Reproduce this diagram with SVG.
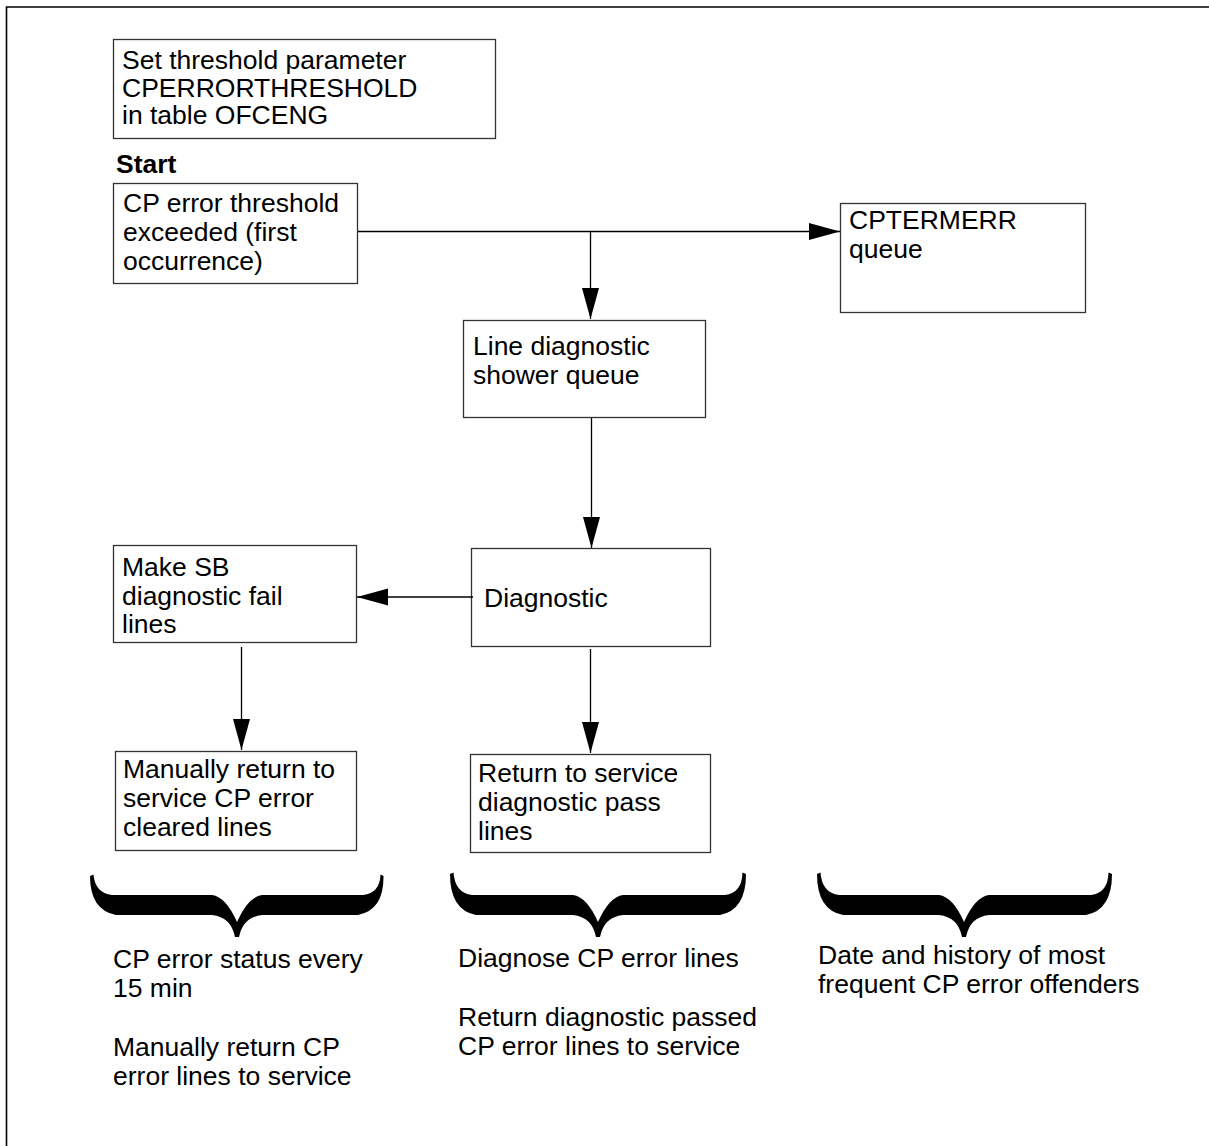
<svg xmlns="http://www.w3.org/2000/svg" width="1209" height="1146" viewBox="0 0 1209 1146">
<style>
.box{fill:#fff;stroke:#333;stroke-width:1.3}
.t{font-family:"Liberation Sans",Arial,sans-serif;font-size:26.5px;fill:#000}
.b{font-weight:bold}
.c{stroke:#000;stroke-width:1.3;fill:none}
.br{fill:#000;stroke:none}
</style>
<defs>
<marker id="ah" markerUnits="userSpaceOnUse" markerWidth="32" markerHeight="18" refX="31" refY="8.5" orient="auto">
<path d="M0,0 L31,8.5 L0,17 Z" fill="#000"/>
</marker>
</defs>
<rect width="1209" height="1146" fill="#fff"/>
<path d="M6.5,1146 V7 H1209" fill="none" stroke="#000" stroke-width="1.6"/>

<g id="n-set">
<rect class="box" x="113.5" y="39.5" width="382" height="99"/>
<text class="t" x="122" y="69">Set threshold parameter</text>
<text class="t" x="122" y="96.5">CPERRORTHRESHOLD</text>
<text class="t" x="122" y="124">in table OFCENG</text>
</g>
<g id="n-startlabel">
<text class="t b" x="116" y="173">Start</text>
</g>
<g id="n-cperror">
<rect class="box" x="113.5" y="183.5" width="244" height="100"/>
<text class="t" x="123" y="212">CP error threshold</text>
<text class="t" x="123" y="241">exceeded (first</text>
<text class="t" x="123" y="270">occurrence)</text>
</g>
<g id="n-cptermerr">
<rect class="box" x="840.5" y="203.5" width="245" height="109"/>
<text class="t" x="849" y="229">CPTERMERR</text>
<text class="t" x="849" y="258">queue</text>
</g>
<g id="n-linediag">
<rect class="box" x="463.5" y="320.5" width="242" height="97"/>
<text class="t" x="473" y="355">Line diagnostic</text>
<text class="t" x="473" y="383.5">shower queue</text>
</g>
<g id="n-diag">
<rect class="box" x="471.5" y="548.5" width="239" height="98"/>
<text class="t" x="484" y="607">Diagnostic</text>
</g>
<g id="n-makesb">
<rect class="box" x="113.5" y="545.5" width="243" height="97"/>
<text class="t" x="122" y="576">Make SB</text>
<text class="t" x="122" y="604.5">diagnostic fail</text>
<text class="t" x="122" y="633">lines</text>
</g>
<g id="n-manual">
<rect class="box" x="115.5" y="751.5" width="241" height="99"/>
<text class="t" x="123" y="778">Manually return to</text>
<text class="t" x="123" y="807">service CP error</text>
<text class="t" x="123" y="836">cleared lines</text>
</g>
<g id="n-rts">
<rect class="box" x="470.5" y="754.5" width="240" height="98"/>
<text class="t" x="478" y="782">Return to service</text>
<text class="t" x="478" y="811">diagnostic pass</text>
<text class="t" x="478" y="840">lines</text>
</g>

<g id="connectors">
<path class="c" d="M358,231.5 H840" marker-end="url(#ah)"/>
<path class="c" d="M590.5,231.5 V319" marker-end="url(#ah)"/>
<path class="c" d="M591.5,418 V548" marker-end="url(#ah)"/>
<path class="c" d="M473,597 H357" marker-end="url(#ah)"/>
<path class="c" d="M241.5,647 V750" marker-end="url(#ah)"/>
<path class="c" d="M590.5,649 V753" marker-end="url(#ah)"/>
</g>

<g id="braces">
<path class="br" d="M90,876 L93.5,874.5 Q95,893 112,895 L212,895 Q226,897 237,922 Q248,897 262,895 L363,895 Q380,893 380.5,874.5 L383.5,876 Q384,910 358,915 L262,915 Q243,917 239,937 L235,937 Q231,917 212,915 L116,915 Q90,910 90,876 Z"/>
<path class="br" d="M450,874 L453.5,872.5 Q455,893 472,895 L573,895 Q587,897 598,922 Q609,897 623,895 L725,895 Q742,893 742.5,872.5 L746,874 Q746,910 720,915 L623,915 Q604,917 600,937 L596,937 Q592,917 573,915 L476,915 Q450,910 450,874 Z"/>
<path class="br" d="M817,874 L820.5,872.5 Q822,893 839,895 L939,895 Q953,897 964,922 Q975,897 989,895 L1091,895 Q1108,893 1108.5,872.5 L1112,874 Q1112,910 1086,915 L989,915 Q970,917 966,937 L962,937 Q958,917 939,915 L843,915 Q817,910 817,874 Z"/>
</g>

<g id="n-notes">
<text class="t" x="113" y="968">CP error status every</text>
<text class="t" x="113" y="997">15 min</text>
<text class="t" x="113" y="1056">Manually return CP</text>
<text class="t" x="113" y="1085">error lines to service</text>
<text class="t" x="458" y="967">Diagnose CP error lines</text>
<text class="t" x="458" y="1026">Return diagnostic passed</text>
<text class="t" x="458" y="1055">CP error lines to service</text>
<text class="t" x="818" y="964">Date and history of most</text>
<text class="t" x="818" y="993">frequent CP error offenders</text>
</g>
</svg>
